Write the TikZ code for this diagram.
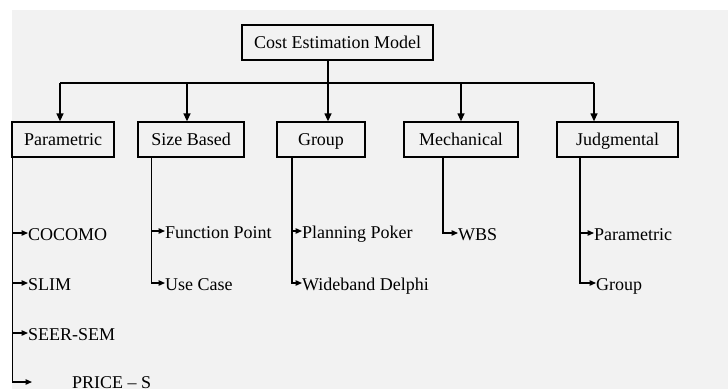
\documentclass[tikz,border=0pt]{standalone}
\usepackage{fontspec}
\setmainfont{Liberation Serif}
\usetikzlibrary{arrows.meta}
\definecolor{bggrey}{HTML}{F2F2F2}
\begin{document}
\begin{tikzpicture}[x=1pt,y=-1pt,
  txt/.style={font=\fontsize{18}{20}\selectfont},
  box/.style={txt, draw=black, line width=1.3pt, minimum height=35pt, inner sep=0pt, text height=12pt, text depth=0pt},
  leaf/.style={txt, anchor=base west, inner sep=0pt},
  conn/.style={draw=black, line width=1.3pt},
  down/.style={conn, -{Triangle[length=8pt,width=7pt]}},
  side/.style={conn, -{Triangle[length=6.5pt,width=5.5pt]}}]
\path[use as bounding box] (0,0) rectangle (728,389);
\fill[bggrey] (12,10) rectangle (728,389);

% boxes
\node[box, minimum width=191pt] (root) at (337.5,42.5) {Cost Estimation Model};
\node[box, minimum width=102pt] (par)  at (63,139.5)   {Parametric};
\node[box, minimum width=106pt] (size) at (191,139.5)  {Size Based};
\node[box, minimum width=88pt]  (grp)  at (321,139.5)  {Group};
\node[box, minimum width=114pt] (mech) at (461,139.5)  {Mechanical};
\node[box, minimum width=121pt] (judg) at (617.5,139.5){Judgmental};

% bus
\coordinate (bus) at (328,83);
\coordinate (b1) at (60,83);
\coordinate (b2) at (187,83);
\coordinate (b4) at (461,83);
\coordinate (b5) at (594,83);
\draw[conn] (root.south -| bus) -- (bus);
\draw[conn] (b1) -- (b5);
\draw[down] (b1) -- (b1 |- par.north);
\draw[down] (b2) -- (b2 |- size.north);
\draw[down] (bus) -- (bus |- grp.north);
\draw[down] (b4) -- (b4 |- mech.north);
\draw[down] (b5) -- (b5 |- judg.north);

% leaves
\node[leaf] (cocomo) at (28,240) {COCOMO};
\node[leaf] (slim)   at (28,290) {SLIM};
\node[leaf] (seer)   at (28,340) {SEER-SEM};
\coordinate (pricetip) at (32,382);
\node[leaf] (price)  at (72,388) {PRICE – S};

\node[leaf] (fp)   at (165,238) {Function Point};
\node[leaf] (uc)   at (165,290) {Use Case};
\node[leaf] (pp)   at (302,238) {Planning Poker};
\node[leaf] (wd)   at (302,290) {Wideband Delphi};
\node[leaf] (wbs)  at (458,240) {WBS};
\node[leaf] (jpar) at (594,240) {Parametric};
\node[leaf] (jgrp) at (596,290) {Group};

% child connectors
\coordinate (pv) at (12.5,157);
\draw[side] (pv) |- ([yshift=7pt]cocomo.base west);
\draw[side] (pv) |- ([yshift=7pt]slim.base west);
\draw[side] (pv) |- ([yshift=7pt]seer.base west);
\draw[side] (pv) |- (pricetip);

\coordinate (sv) at (151.5,157);
\draw[side] (sv) |- ([yshift=7pt]fp.base west);
\draw[side] (sv) |- ([yshift=7pt]uc.base west);

\coordinate (gv) at (292,157);
\draw[side] (gv) |- ([yshift=7pt]pp.base west);
\draw[side] (gv) |- ([yshift=7pt]wd.base west);

\coordinate (mv) at (443,157);
\draw[side] (mv) |- ([yshift=7pt]wbs.base west);

\coordinate (jv) at (580,157);
\draw[side] (jv) |- ([yshift=7pt]jpar.base west);
\draw[side] (jv) |- ([yshift=7pt]jgrp.base west);
\end{tikzpicture}
\end{document}
